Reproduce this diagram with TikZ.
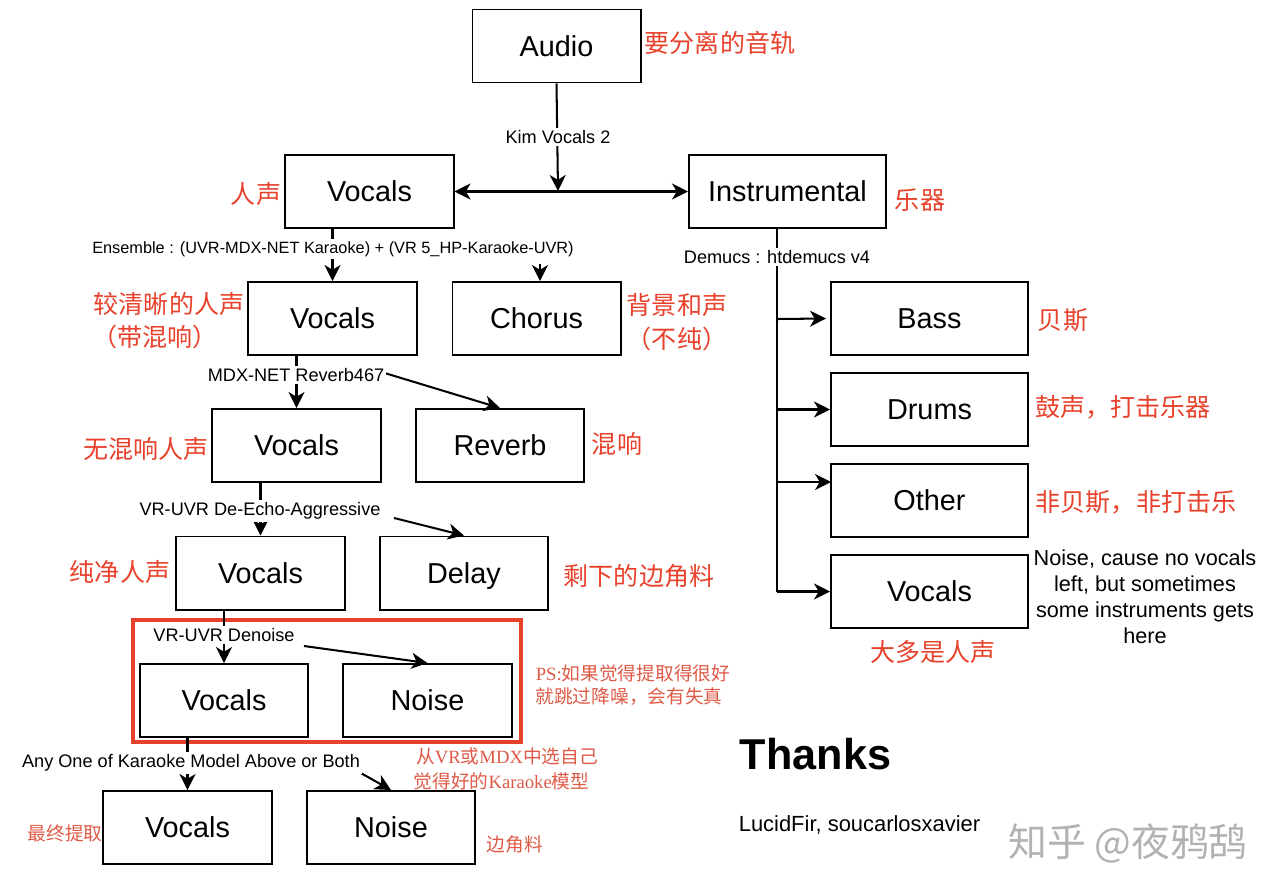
\documentclass[tikz,border=0pt]{standalone}
\usepackage{fontspec}
\setmainfont{Liberation Sans}
\newfontfamily\cjk{Noto Sans CJK SC}
\newfontfamily\lat{Liberation Serif}
\usetikzlibrary{arrows.meta}
\definecolor{redlb}{HTML}{E8412B}
\definecolor{redps}{HTML}{DE5A47}
\tikzstyle{bx}=[rectangle,draw=black,line width=1.4pt,minimum width=4.2cm,minimum height=1.825cm,inner sep=0pt,text height=14.7pt,text depth=0pt,font=\fontsize{20.5}{24}\selectfont]
\tikzstyle{wd}=[bx,minimum width=4.925cm]
\tikzstyle{lb}=[fill=white,inner sep=1.5pt,font=\fontsize{12.9}{15}\selectfont]
\tikzstyle{rd}=[text=redlb,inner sep=0pt,font=\cjk\fontsize{17.8}{21}\selectfont]
\tikzstyle{ps}=[text=redps,inner sep=0pt,font=\cjk\fontsize{13.3}{16}\selectfont]
\tikzstyle{ln}=[line width=1.45pt]
\tikzstyle{ar}=[ln,-{Stealth[length=.4cm,width=.4cm,inset=.12cm]}]

\begin{document}
\begin{tikzpicture}[x=.025cm,y=-.025cm]
\useasboundingbox (0,0) rectangle (1280,895);
\node[bx] (audio) at (556.5,46) {Audio};
\node[bx] (voxa) at (369.5,191.5) {Vocals};
\node[wd] (inst) at (787.5,191.5) {Instrumental};
\node[bx] (voxb) at (332.5,318.5) {Vocals};
\node[bx] (chorus) at (536.5,318.5) {Chorus};
\node[bx] (voxc) at (296.5,445.5) {Vocals};
\node[bx] (reverb) at (500,445.5) {Reverb};
\node[bx] (voxd) at (260.5,573) {Vocals};
\node[bx] (delay) at (464,573) {Delay};
\node[bx] (voxe) at (224,700.5) {Vocals};
\node[bx] (noisee) at (427.5,700.5) {Noise};
\node[bx] (voxf) at (187.5,827.5) {Vocals};
\node[bx] (noisef) at (391,827.5) {Noise};
\node[wd] (bass) at (929.5,318.5) {Bass};
\node[wd] (drums) at (929.5,409.5) {Drums};
\node[wd] (other) at (929.5,500.5) {Other};
\node[wd] (voxi) at (929.5,591.5) {Vocals};
\draw[rectangle,draw=redlb,line width=2.9pt] (133,620) rectangle (521,742);

\coordinate (mid) at (558,191);
\coordinate (cho) at (540,264);
\coordinate (rva) at (378,371);
\coordinate (dla) at (394,518);
\coordinate (nea) at (304,646);
\coordinate (nfa) at (359,772);
\coordinate (tka) at (777,319);
\coordinate (tkb) at (777,409.5);
\coordinate (tkc) at (777,482);
\coordinate (tkd) at (777,591.5);
\coordinate (otr) at (831,482);
\draw[ar] (audio.south) -- (mid);
\draw[ln,{Stealth[length=.4cm,width=.4cm,inset=.12cm]}-{Stealth[length=.4cm,width=.4cm,inset=.12cm]}] (voxa.east) -- (inst.west);
\draw[ar] (voxa.south -| voxb) -- (voxb.north);
\draw[ar] (cho) -- (chorus.north -| cho);
\draw[ar] (voxb.south -| voxc) -- (voxc.north);
\draw[ar] (rva) -- (reverb.north);
\draw[ar] (voxc.south -| voxd) -- (voxd.north);
\draw[ar] (dla) -- (delay.north);
\draw[ar] (voxd.south -| voxe) -- (voxe.north);
\draw[ar] (nea) -- (noisee.north);
\draw[ar] (voxe.south -| voxf) -- (voxf.north);
\draw[ar] (nfa) -- (noisef.north);
\draw[ln] (inst.south -| tkd) -- (tkd);
\draw[ar] (tka) -- ([xshift=-.1cm]bass.west);
\draw[ar] (tkb) -- (drums.west);
\draw[ar] (tkc) -- (otr);
\draw[ar] (tkd) -- (voxi.west);

\node[lb] (lkim) at (558,137) {Kim Vocals 2};
\node[lb,font=\fontsize{11.6}{14}\selectfont] (lens) at (333,249) {Ensemble : (UVR-MDX-NET Karaoke) + (VR 5\_HP-Karaoke-UVR)};
\node[lb] (ldem) at (777,257) {Demucs : htdemucs v4};
\node[lb] (lrev) at (296,375) {MDX-NET Reverb467};
\node[lb] (lech) at (260,511) {VR-UVR De-Echo-Aggressive};
\node[lb] (lden) at (224,635) {VR-UVR Denoise};
\node[lb] (lany) at (191,763) {Any One of Karaoke Model Above or Both};

\node[rd] (raud) at (720,43) {要分离的音轨};
\node[rd] (rvoa) at (256,194) {人声};
\node[rd] (rins) at (920,200) {乐器};
\node[rd] (rvba) at (169,304) {较清晰的人声};
\node[rd] (rvbb) at (155,337) {（带混响）};
\node[rd] (rcha) at (677,305) {背景和声};
\node[rd] (rchb) at (677,339) {（不纯）};
\node[rd] (rvoc) at (146,449) {无混响人声};
\node[rd] (rrev) at (617,444) {混响};
\node[rd] (rvod) at (120,572) {纯净人声};
\node[rd] (rdel) at (639,576) {剩下的边角料};
\node[rd] (rbas) at (1063,320) {贝斯};
\node[rd] (rdru) at (1123,407) {鼓声，打击乐器};
\node[rd] (roth) at (1136,502) {非贝斯，非打击乐};
\node[rd] (rvoi) at (933,652) {大多是人声};
\node[ps] (pa) at (633,673) {{\lat PS:}如果觉得提取得很好};
\node[ps] (pb) at (629,697) {就跳过降噪，会有失真};
\node[ps] (pc) at (507,756) {从{\lat VR}或{\lat MDX}中选自己};
\node[ps] (pd) at (501.5,781) {觉得好的{\lat Karaoke}模型};
\node[ps] (pe) at (65,833) {最终提取};
\node[ps] (pf) at (515,844) {边角料};

\node[align=center,inner sep=0pt,font=\fontsize{15.4}{18.5}\selectfont] (nte) at (1145,597) {Noise, cause no vocals\\left, but sometimes\\some instruments gets\\here};
\node[inner sep=0pt,font=\bfseries\fontsize{30.7}{36}\selectfont] (thx) at (815.5,754) {Thanks};
\node[inner sep=0pt,font=\fontsize{15.6}{18}\selectfont] (nms) at (859.5,825) {LucidFir, soucarlosxavier};
\node[text=black!30,inner sep=0pt,font=\cjk\fontsize{27.6}{32}\selectfont] (wm) at (1128,843) {知乎 @夜鸦鸹};
\end{tikzpicture}
\end{document}
